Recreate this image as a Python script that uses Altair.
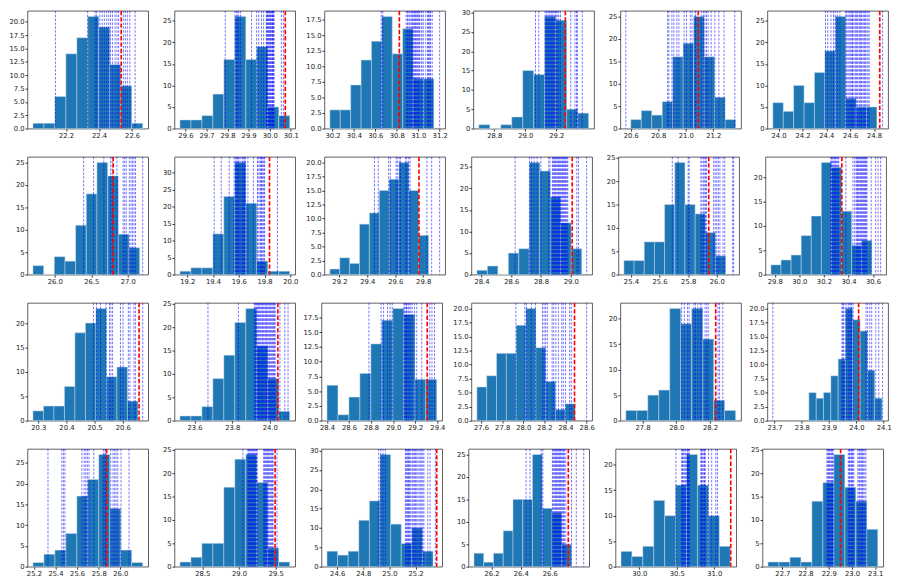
import altair as alt
import pandas as pd
import numpy as np

# ---- data (24 histograms, 10 bins each) ----
BIN_LO = [22.0, 29.574, 30.176, 28.701, 20.6, 23.952,
          25.702, 19.1425, 29.132, 28.369, 25.351, 29.769,
          20.281, 23.522, 28.4, 27.561, 27.701, 23.826,
          25.191, 28.197, 24.522, 26.079, 29.757, 22.638]
BIN_HI = [22.664, 30.095, 31.146, 29.408, 21.363, 24.824,
          27.162, 19.995, 29.839, 29.074, 26.062, 30.590,
          20.654, 24.106, 29.394, 28.491, 28.352, 24.094,
          26.207, 29.690, 25.334, 26.749, 31.213, 23.111]
COUNTS = [
    [1, 1, 6, 14, 17, 21, 19, 12, 8, 1],
    [2, 2, 3, 8, 16, 26, 16, 19, 5, 3],
    [3, 3, 7, 11, 14, 18, 12, 16, 8, 8],
    [1, 0, 1, 3, 15, 14, 29, 28, 5, 4],
    [2, 4, 3, 6, 16, 19, 25, 16, 7, 2],
    [6, 4, 10, 6, 13, 18, 26, 7, 5, 5],
    [2, 0, 4, 3, 11, 18, 25, 22, 9, 6],
    [1, 2, 2, 12, 23, 33, 21, 4, 1, 1],
    [1, 3, 2, 9, 11, 15, 17, 20, 15, 7],
    [1, 2, 0, 5, 6, 26, 24, 18, 12, 6],
    [3, 3, 7, 7, 15, 24, 15, 13, 9, 4],
    [2, 3, 4, 8, 12, 23, 22, 13, 6, 7],
    [2, 3, 3, 7, 18, 20, 23, 9, 11, 4],
    [1, 1, 3, 9, 14, 21, 24, 16, 9, 2],
    [6, 1, 4, 8, 13, 17, 19, 18, 7, 7],
    [6, 8, 12, 12, 17, 20, 13, 7, 2, 3],
    [2, 2, 5, 6, 22, 19, 22, 16, 4, 2],
    [5, 4, 5, 8, 11, 20, 18, 16, 9, 4],
    [1, 3, 4, 8, 17, 21, 27, 14, 4, 1],
    [1, 2, 5, 5, 17, 23, 24, 18, 4, 1],
    [4, 3, 4, 12, 17, 29, 11, 6, 10, 4],
    [3, 1, 3, 8, 15, 15, 25, 13, 12, 5],
    [3, 2, 4, 13, 10, 16, 22, 16, 10, 4],
    [1, 1, 2, 1, 14, 18, 24, 17, 14, 8],
]
BLUE = [
    [22.136, 22.331, 22.376, 22.385, 22.405, 22.419, 22.432, 22.446, 22.458, 22.469,
     22.481, 22.497, 22.508, 22.518, 22.547, 22.559, 22.571, 22.586, 22.618],
    [29.789, 29.835, 29.842, 29.848, 29.853, 29.862, 29.914, 29.938, 29.948, 29.961,
     29.971, 29.984, 29.986, 29.989, 29.991, 29.995, 29.997, 30.0, 30.003, 30.005,
     30.009, 30.012, 30.014, 30.016, 30.018, 30.021, 30.055, 30.065],
    [30.654, 30.669, 30.887, 30.899, 30.905, 30.916, 30.925, 30.937, 30.945, 30.952,
     30.96, 30.967, 30.975, 30.982, 30.99, 30.997, 31.005, 31.012, 31.027, 31.035,
     31.048, 31.07, 31.087, 31.095, 31.101, 31.11, 31.116, 31.131, 31.2],
    [29.066, 29.087, 29.128, 29.135, 29.140, 29.148, 29.155, 29.161, 29.169, 29.175,
     29.181, 29.190, 29.195, 29.202, 29.21, 29.216, 29.227, 29.293, 29.320, 29.330,
     29.336, 29.367],
    [20.564, 20.868, 20.877, 20.899, 20.913, 20.935, 20.950, 20.988, 21.006, 21.033,
     21.046, 21.069, 21.073, 21.113, 21.129, 21.140, 21.151, 21.163, 21.185, 21.212,
     21.241, 21.279, 21.357],
    [24.393, 24.412, 24.439, 24.460, 24.474, 24.492, 24.514, 24.562, 24.57, 24.581,
     24.59, 24.599, 24.607, 24.615, 24.62, 24.626, 24.64, 24.647, 24.655, 24.661,
     24.674, 24.68, 24.688, 24.695, 24.706, 24.715, 24.722, 24.73, 24.741, 24.75,
     24.760, 24.872],
    [26.396, 26.532, 26.672, 26.766, 26.787, 26.851, 26.936, 26.957, 26.979, 27.021,
     27.043, 27.064, 27.085, 27.106, 27.204],
    [19.408, 19.463, 19.525, 19.563, 19.575, 19.58, 19.588, 19.595, 19.6, 19.61,
     19.625, 19.63, 19.638, 19.645, 19.65, 19.67, 19.713, 19.745, 19.75, 19.763,
     19.77, 19.775, 19.78, 19.788, 19.795, 19.8, 19.9],
    [29.451, 29.478, 29.553, 29.565, 29.606, 29.615, 29.629, 29.638, 29.674, 29.683,
     29.697, 29.706, 29.827, 29.861, 29.918],
    [28.626, 28.723, 28.737, 28.754, 28.774, 28.799, 28.852, 28.860, 28.877, 28.882,
     28.887, 28.892, 28.897, 28.902, 28.908, 28.913, 28.918, 28.923, 28.928, 28.933,
     28.939, 28.944, 28.949, 28.954, 28.959, 28.964, 28.969, 28.975, 28.980, 29.041,
     29.052, 29.107],
    [25.689, 25.729, 25.8, 25.807, 25.889, 25.896, 25.907, 25.916, 25.922, 25.929,
     25.978, 25.989, 26.0, 26.011, 26.022, 26.044, 26.056, 26.111, 26.118],
    [30.256, 30.262, 30.269, 30.275, 30.282, 30.288, 30.295, 30.30, 30.308, 30.315,
     30.321, 30.379, 30.436, 30.45, 30.462, 30.468, 30.474, 30.48, 30.487, 30.494,
     30.5, 30.507, 30.513, 30.52, 30.526, 30.532, 30.538, 30.545, 30.551, 30.585,
     30.621, 30.641, 30.662],
    [20.496, 20.507, 20.521, 20.541, 20.553, 20.558, 20.564, 20.592, 20.601, 20.62,
     20.626, 20.640, 20.645, 20.671],
    [23.671, 23.833, 23.918, 23.922, 23.927, 23.931, 23.935, 23.94, 23.944, 23.948,
     23.952, 23.957, 23.961, 23.965, 23.969, 23.974, 23.978, 23.982, 23.986, 23.99,
     23.995, 23.999, 24.003, 24.008, 24.012, 24.016, 24.020, 24.025, 24.029, 24.054,
     24.080, 24.097],
    [28.780, 28.890, 28.913, 28.948, 28.971, 28.991, 29.097, 29.105, 29.115, 29.12,
     29.126, 29.138, 29.149, 29.16, 29.172, 29.193, 29.213, 29.259, 29.331, 29.351,
     29.374],
    [27.930, 28.015, 28.030, 28.076, 28.115, 28.182, 28.197, 28.212, 28.227, 28.273,
     28.288, 28.309, 28.333, 28.364, 28.379, 28.4, 28.439, 28.455, 28.6],
    [28.032, 28.048, 28.067, 28.076, 28.105, 28.114, 28.128, 28.143, 28.152, 28.171,
     28.181, 28.19, 28.248, 28.257, 28.276],
    [23.694, 23.947, 23.95, 23.953, 23.959, 23.965, 23.971, 23.976, 23.98, 23.982,
     23.988, 24.035, 24.041, 24.049, 24.056, 24.071, 24.082, 24.096],
    [25.330, 25.458, 25.473, 25.487, 25.644, 25.665, 25.680, 25.695, 25.710, 25.754,
     25.843, 25.858, 25.864, 25.911, 25.932, 25.947, 25.961, 25.976, 26.006, 26.080],
    [29.054, 29.119, 29.13, 29.141, 29.15, 29.162, 29.17, 29.184, 29.195, 29.206,
     29.215, 29.227, 29.238, 29.249, 29.335, 29.346, 29.357, 29.368, 29.379, 29.39,
     29.400, 29.41, 29.422, 29.433, 29.444, 29.455, 29.465, 29.517],
    [24.918, 24.934, 24.951, 24.969, 25.122, 25.128, 25.134, 25.14, 25.146, 25.152,
     25.158, 25.165, 25.176, 25.185, 25.193, 25.2, 25.209, 25.218, 25.228, 25.237,
     25.247, 25.255, 25.264, 25.294, 25.311, 25.351],
    [26.437, 26.464, 26.541, 26.552, 26.618, 26.623, 26.629, 26.635, 26.640, 26.645,
     26.651, 26.656, 26.662, 26.667, 26.673, 26.678, 26.684, 26.69, 26.695, 26.70,
     26.710, 26.749, 26.782, 26.833],
    [30.489, 30.566, 30.575, 30.583, 30.595, 30.609, 30.62, 30.638, 30.645, 30.651,
     30.66, 30.668, 30.821, 30.83, 30.838, 30.85, 30.864, 30.87, 30.881, 30.923,
     30.966, 31.021, 31.043],
    [22.892, 22.895, 22.899, 22.902, 22.905, 22.909, 22.912, 22.916, 22.919, 22.984,
     22.988, 22.99, 22.995, 22.998, 23.001, 23.004, 23.008, 23.025, 23.03, 23.033,
     23.038, 23.042, 23.045, 23.049, 23.055, 23.060],
]
RED = [22.534, 30.074, 30.824, 29.258, 21.091, 24.848,
       26.8, 19.838, 29.770, 29.010, 25.944, 30.346,
       20.658, 24.043, 29.308, 28.485, 28.234, 24.008,
       25.873, 29.491, 25.362, 26.727, 31.22, 22.951]
XTICKS = [
    [22.2, 22.4, 22.6], [29.6, 29.7, 29.8, 29.9, 30.0, 30.1],
    [30.2, 30.4, 30.6, 30.8, 31.0, 31.2], [28.8, 29.0, 29.2],
    [20.6, 20.8, 21.0, 21.2], [24.0, 24.2, 24.4, 24.6, 24.8],
    [26.0, 26.5, 27.0], [19.2, 19.4, 19.6, 19.8, 20.0],
    [29.2, 29.4, 29.6, 29.8], [28.4, 28.6, 28.8, 29.0],
    [25.4, 25.6, 25.8, 26.0], [29.8, 30.0, 30.2, 30.4, 30.6],
    [20.3, 20.4, 20.5, 20.6], [23.6, 23.8, 24.0],
    [28.4, 28.6, 28.8, 29.0, 29.2, 29.4], [27.6, 27.8, 28.0, 28.2, 28.4, 28.6],
    [27.8, 28.0, 28.2], [23.7, 23.8, 23.9, 24.0, 24.1],
    [25.2, 25.4, 25.6, 25.8, 26.0], [28.5, 29.0, 29.5],
    [24.6, 24.8, 25.0, 25.2], [26.2, 26.4, 26.6],
    [30.0, 30.5, 31.0], [22.7, 22.8, 22.9, 23.0, 23.1],
]
YSTEP = [2.5, 5, 2.5, 5, 5, 5,
         5, 5, 2.5, 5, 5, 5,
         5, 5, 2.5, 2.5, 5, 2.5,
         5, 5, 5, 5, 5, 5]

PW, PH = 124, 121


def panel(i):
    lo, hi = BIN_LO[i], BIN_HI[i]
    counts = COUNTS[i]
    edges = np.linspace(lo, hi, len(counts) + 1)
    bars = pd.DataFrame({"x0": edges[:-1], "x1": edges[1:], "n": counts})
    allx = [lo, hi] + BLUE[i] + [RED[i]]
    xmin, xmax = min(allx), max(allx)
    m = 0.05 * (xmax - xmin)
    dom = [xmin - m, xmax + m]
    ymax = max(counts) * 1.05
    step = YSTEP[i]
    yvals = [float(v) for v in np.arange(0, ymax + 1e-9, step)]
    xvals = [v for v in XTICKS[i] if dom[0] <= v <= dom[1]]
    xs = alt.Scale(domain=dom, nice=False, zero=False)
    ys = alt.Scale(domain=[0, ymax], nice=False)
    xaxis = alt.Axis(values=xvals, format=".1f", title=None)
    fmt = ".1f" if step == 2.5 else "d"
    b = alt.Chart(bars).mark_rect(color="#1f77b4", stroke="#c9dcec", strokeWidth=0.5).encode(
        x=alt.X("x0:Q", scale=xs, axis=xaxis),
        x2="x1:Q",
        y=alt.Y("n:Q", scale=ys, axis=alt.Axis(values=yvals, format=fmt, title=None)),
        y2=alt.datum(0),
    )
    bl = alt.Chart(pd.DataFrame({"x0": BLUE[i]})).mark_rule(
        color="blue", strokeWidth=0.8, strokeDash=[2.5, 1.5], opacity=0.7, clip=True
    ).encode(x=alt.X("x0:Q", scale=xs, axis=xaxis))
    rd = alt.Chart(pd.DataFrame({"x0": [RED[i]]})).mark_rule(
        color="red", strokeWidth=1.7, strokeDash=[4.5, 2], clip=True
    ).encode(x=alt.X("x0:Q", scale=xs, axis=xaxis))
    return alt.layer(b, bl, rd).properties(width=PW, height=PH)


rows = [alt.hconcat(*[panel(r * 6 + c) for c in range(6)], spacing=6) for r in range(4)]
chart = alt.vconcat(*rows, spacing=11).properties(
    padding={"top": -8, "left": 0, "right": 0, "bottom": 0}, background="white")
chart = chart.configure_view(stroke="#333", strokeWidth=0.8).configure_axis(
    grid=False, domain=False, tickSize=2.5, tickColor="#333", labelFontSize=7,
    labelFont="DejaVu Sans", labelColor="#222", labelPadding=1, labelOverlap=False,
    labelFlush=False,
).configure_axisY(minExtent=19, maxExtent=19).configure_axisX(minExtent=13, maxExtent=13)

chart.save("out.html", embed_options={"renderer": "svg", "actions": False})
